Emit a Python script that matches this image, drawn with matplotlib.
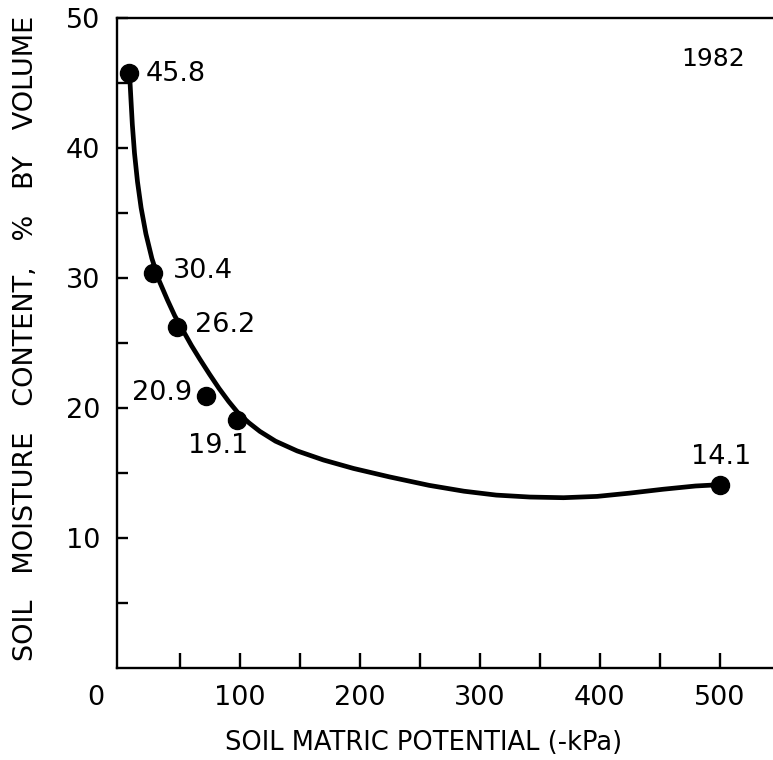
import matplotlib
matplotlib.use("Agg")
import matplotlib.pyplot as plt
import numpy as np

# measured points (matric potential in -kPa, moisture in % by volume)
potential_kpa = [8, 28, 48, 72, 98, 500]
moisture_pct = [45.8, 30.4, 26.2, 20.9, 19.1, 14.1]

# fitted retention curve, traced along its length
curve_kpa = [8.2, 8.8, 9.5, 10.7, 12.5, 15, 18, 22, 27, 33, 40, 46, 53, 60,
             67, 75, 83, 91, 99, 108, 117, 130, 148, 170, 195, 225, 258,
             287, 314, 342, 370, 398, 425, 453, 480, 500]
curve_pct = [45.8, 45.0, 43.8, 41.8, 39.6, 37.4, 35.4, 33.4, 31.5, 29.8, 28.3,
             27.1, 25.95, 24.8, 23.75, 22.6, 21.5, 20.5, 19.6, 18.85, 18.2,
             17.45, 16.7, 16.0, 15.35, 14.7, 14.05, 13.6, 13.3, 13.15, 13.1,
             13.2, 13.45, 13.75, 14.0, 14.1]

# label offsets in pixels: (dx, dy, ha)
label_pos = [(17, -1, "left"), (20, 1.5, "left"), (18, 2, "left"),
             (-14, 3, "right"), (-19, -26, "center"), (1.5, 28, "center")]

W, H = 773, 760
FS = 19.5

fig = plt.figure(figsize=(W / 100, H / 100), dpi=100)
left, right, bottom, top = 117.3, 773, 668, 18
ax = fig.add_axes([left / W, 1 - bottom / H, (right - left) / W, (bottom - top) / H])

x_scale = 1.2  # px per kPa
x0_px = 119.5
ax.set_xlim((left - x0_px) / x_scale, (right - x0_px) / x_scale)
ax.set_ylim(0, 50)

ax.plot(curve_kpa, curve_pct, color="black", lw=3.4, solid_capstyle="round",
        solid_joinstyle="round", zorder=3)
ax.plot(potential_kpa, moisture_pct, "o", color="black", ms=13, zorder=4)

for x, y, (dx, dy, ha) in zip(potential_kpa, moisture_pct, label_pos):
    ax.annotate(f"{y:.1f}", (x, y), xytext=(dx, dy), textcoords="offset pixels",
                ha=ha, va="center", fontsize=FS)

fig.text(713 / W, 1 - 59 / H, "1982", ha="center", va="center", fontsize=18)

ax.spines["right"].set_visible(False)
for side in ("left", "bottom", "top"):
    ax.spines[side].set_linewidth(1.7)

x_minor = np.arange(50, 550, 50)
y_minor = np.arange(5, 55, 5)
ax.set_xticks(x_minor)
ax.set_xticklabels(["" if v % 100 else str(v) for v in x_minor])
ax.set_yticks(y_minor)
ax.set_yticklabels([str(v) if v % 10 == 0 else "" for v in y_minor])
ax.tick_params(axis="x", direction="in", length=11, width=1.7, pad=12,
               labelsize=FS, top=False)
ax.tick_params(axis="y", direction="in", length=8, width=1.7, pad=12.5,
               labelsize=FS, right=False)

# shared origin label at the corner
fig.text(95.5 / W, 1 - 698 / H, "0", ha="center", va="center", fontsize=FS)

fig.text(424 / W, 1 - 743.5 / H, "SOIL MATRIC POTENTIAL (-kPa)",
         ha="center", va="center", fontsize=18.5)
fig.text(26 / W, 1 - 338 / H, "SOIL   MOISTURE   CONTENT,   %   BY   VOLUME",
         ha="center", va="center", rotation=90, fontsize=FS)

fig.savefig("out.png", dpi=100)
